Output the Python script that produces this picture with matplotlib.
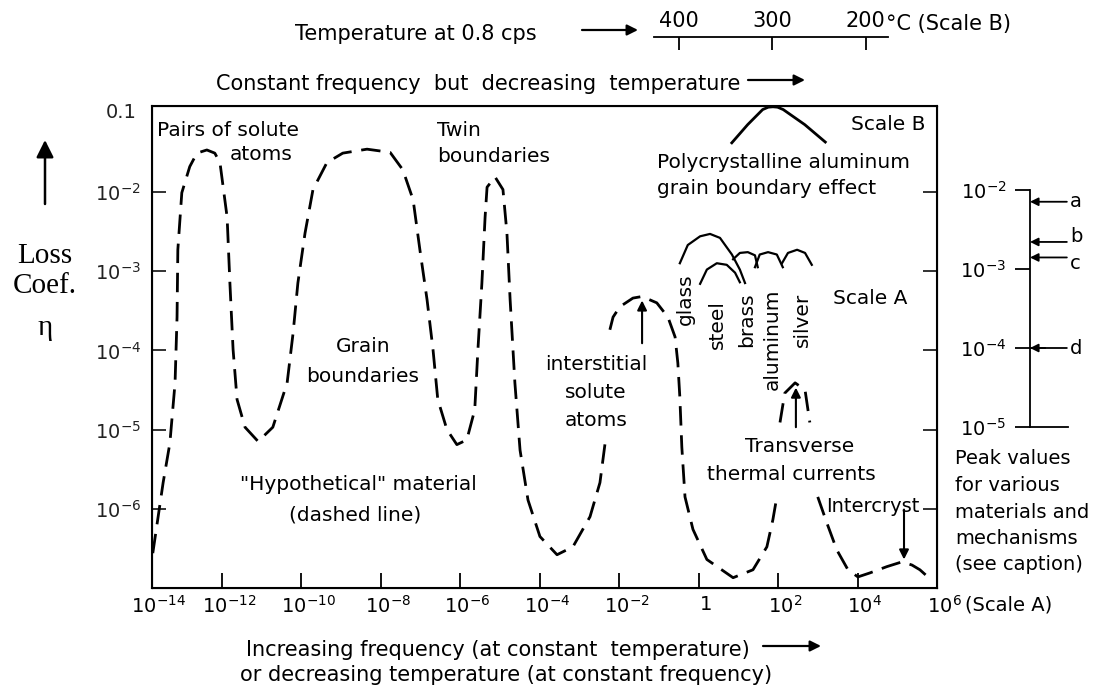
import numpy as np
import matplotlib
matplotlib.use('Agg')
import matplotlib.pyplot as plt
from matplotlib.transforms import ScaledTranslation

# "Hypothetical" material (dashed line), log10(frequency) vs log10(loss coefficient)
hyp_a_f = [-13.74, -13.48, -13.31, -13.18, -13.13, -13.11, -13.01, -12.81, -12.63, -12.38,
           -12.18, -12.05, -11.87, -11.80, -11.72, -11.62, -11.42, -11.09, -10.72, -10.36,
           -10.21, -10.09, -9.91, -9.71, -9.36, -8.96, -8.35, -7.77, -7.45, -7.19, -7.02,
           -6.84, -6.69, -6.57, -6.34, -6.09, -5.84, -5.64, -5.56, -5.46, -5.38, -5.33,
           -5.13, -4.93, -4.83, -4.75, -4.63, -4.50, -4.30, -4.00, -3.57, -3.17, -2.74,
           -2.49, -2.36]
hyp_a_eta = [-6.56, -5.67, -5.17, -4.41, -3.58, -2.73, -2.01, -1.68, -1.51, -1.47,
             -1.51, -1.63, -2.32, -3.15, -3.99, -4.62, -4.97, -5.15, -4.97, -4.41,
             -3.78, -3.15, -2.52, -1.97, -1.63, -1.51, -1.46, -1.50, -1.72, -2.10, -2.73,
             -3.36, -3.99, -4.62, -5.00, -5.19, -5.13, -4.75, -3.99, -3.15, -2.32, -1.94,
             -1.81, -1.97, -2.52, -3.36, -4.41, -5.26, -5.89, -6.35, -6.58, -6.48, -6.10,
             -5.67, -5.17]
hyp_b_f = [-2.24, -2.16, -1.99, -1.66, -1.43, -1.06, -0.78, -0.60, -0.53, -0.48, -0.43,
           -0.35, -0.15, 0.20, 0.86, 1.36, 1.71, 1.86, 1.96]
hyp_b_eta = [-3.74, -3.58, -3.45, -3.34, -3.32, -3.40, -3.58, -3.83, -4.16, -4.59, -5.22,
             -5.85, -6.26, -6.64, -6.87, -6.77, -6.48, -6.14, -5.85]
hyp_c_f = [2.04, 2.16, 2.42, 2.67, 2.79]
hyp_c_eta = [-4.91, -4.54, -4.41, -4.50, -4.91]
hyp_d_f = [2.99, 3.22, 3.47, 3.75, 4.00, 4.30, 4.73, 5.11, 5.36, 5.56, 5.76]
hyp_d_eta = [-5.85, -6.18, -6.52, -6.77, -6.86, -6.81, -6.73, -6.67, -6.71, -6.77, -6.86]

# solid peaks of real materials (scale A)
glass_f = [-0.48, -0.28, 0.03, 0.28, 0.53, 0.83, 1.03, 1.16]
glass_eta = [-2.90, -2.67, -2.56, -2.53, -2.58, -2.79, -2.98, -3.15]
steel_f = [0.03, 0.20, 0.45, 0.70, 0.91, 1.03]
steel_eta = [-3.16, -2.98, -2.90, -2.92, -3.02, -3.14]
brass_f = [0.86, 1.03, 1.23, 1.41, 1.48]
brass_eta = [-2.85, -2.77, -2.76, -2.80, -2.95]
alum_f = [1.41, 1.53, 1.74, 1.96, 2.11]
alum_eta = [-2.95, -2.79, -2.76, -2.79, -2.95]
silver_f = [2.09, 2.24, 2.47, 2.67, 2.84]
silver_eta = [-2.90, -2.77, -2.73, -2.77, -2.92]

# polycrystalline aluminum grain boundary peak (scale B, temperature in C)
poly_T = [343, 326, 310, 304, 299, 294, 288, 265, 243]
poly_eta = [-1.38, -1.15, -0.96, -0.93, -0.925, -0.93, -0.96, -1.15, -1.37]

# tick labels
x_exp = [-14, -12, -10, -8, -6, -4, -2, 0, 2, 4, 6]
y_exp = [-2, -3, -4, -5, -6]
scale_b_T = [400, 300, 200]

# right-hand scale: peak values
peak_labels = ['a', 'b', 'c', 'd']
peak_values = [7.1e-3, 2.2e-3, 1.4e-3, 1.0e-4]

W, H = 1094, 695
FS = 14.5

fig = plt.figure(figsize=(W / 100, H / 100), dpi=100)
ax = fig.add_axes([152 / W, 1 - 588 / H, 785 / W, 482 / H])
ax.set_xscale('log')
ax.set_yscale('log')
ax.set_xlim(10 ** -13.76, 10 ** 5.99)
ax.set_ylim(10 ** -7.0, 10 ** -0.915)
ax.minorticks_off()


def axp(px, py):
    # pixel of the picture -> axes fraction
    return (px - 152) / 785, (588 - py) / 482


dash = (0, (7, 3.5))
for f, e in [(hyp_a_f, hyp_a_eta), (hyp_b_f, hyp_b_eta),
             (hyp_c_f, hyp_c_eta), (hyp_d_f, hyp_d_eta)]:
    ax.plot(10.0 ** np.array(f), 10.0 ** np.array(e), color='k', lw=2.0, ls=dash,
            dash_capstyle='butt')

for f, e in [(glass_f, glass_eta), (steel_f, steel_eta), (brass_f, brass_eta),
             (alum_f, alum_eta), (silver_f, silver_eta)]:
    ax.plot(10.0 ** np.array(f), 10.0 ** np.array(e), color='k', lw=1.6)

# scale B curve on a hidden twin x-axis (temperature)
ax_t = ax.twiny()
ax_t.set_xlim(300 + (772 - 152) / 0.935, 300 - (937 - 772) / 0.935)
ax_t.plot(poly_T, 10.0 ** np.array(poly_eta), color='k', lw=2.0)
ax_t.set_xticks([])
ax_t.tick_params(top=False, labeltop=False)

# axes styling
for s in ax.spines.values():
    s.set_linewidth(1.5)
xt = [10 ** -13.76] + [10.0 ** k for k in x_exp[1:-1]] + [10 ** 5.99]
xl = []
for k in x_exp:
    xl.append('1' if k == 0 else '$10^{%d}$' % k)
ax.set_xticks(xt)
ax.set_xticklabels(xl)
ax.tick_params(axis='x', direction='in', length=11, width=1.3, pad=5, labelsize=14)
off = ScaledTranslation(5 / 72, 0, fig.dpi_scale_trans)
for lab in ax.get_xticklabels():
    lab.set_transform(lab.get_transform() + off)
ax.set_yticks([10.0 ** k for k in y_exp])
ax.set_yticklabels(['$10^{%d}$' % k for k in y_exp])
ax.tick_params(axis='y', direction='in', length=10, width=1.3, pad=8, labelsize=14,
               right=True, colors='#222222')
ax.text(-0.02, 0.1, '0.1', transform=ax.get_yaxis_transform(), ha='right',
        va='center', fontsize=14, color='#222222')
ax.text(1.036, -0.035, '(Scale A)', transform=ax.transAxes, ha='left', va='center',
        fontsize=14)

# labels inside the plot
def label(px, py, s, ha='left', size=FS):
    x, y = axp(px, py)
    ax.text(x, y, s, transform=ax.transAxes, ha=ha, va='center_baseline',
            fontsize=size)


label(157, 128, 'Pairs of solute')
label(230, 153, 'atoms')
label(437, 128, 'Twin')
label(437, 155, 'boundaries')
label(363, 345, 'Grain', ha='center')
label(363, 375, 'boundaries', ha='center')
label(596, 362, 'interstitial', ha='center')
label(596, 390, 'solute', ha='center')
label(596, 418, 'atoms', ha='center')
label(358, 483, '"Hypothetical" material', ha='center')
label(355, 513, '(dashed line)', ha='center')
label(800, 445, 'Transverse', ha='center')
label(791, 473, 'thermal currents', ha='center')
label(919, 505, 'Intercryst', ha='right', size=14)
label(925, 123, 'Scale B', ha='right')
label(657, 160, 'Polycrystalline aluminum')
label(657, 187, 'grain boundary effect')
label(833, 297, 'Scale A')

for px, py, s in [(685, 273, 'glass'), (717, 300, 'steel'), (747, 292, 'brass'),
                  (772, 288, 'aluminum'), (802, 293, 'silver')]:
    x, y = axp(px, py)
    ax.text(x, y, s, transform=ax.transAxes, rotation=90, ha='center', va='top',
            fontsize=FS)

arrow = dict(arrowstyle='-|>', color='k', lw=1.5, mutation_scale=14, shrinkA=0, shrinkB=0)
ax.annotate('', xy=(10 ** -1.43, 10 ** -3.37), xytext=(10 ** -1.43, 10 ** -3.91),
            arrowprops=arrow)
ax.annotate('', xy=(10 ** 2.44, 10 ** -4.47), xytext=(10 ** 2.44, 10 ** -4.97),
            arrowprops=arrow)
ax.annotate('', xy=(10 ** 5.16, 10 ** -6.64), xytext=(10 ** 5.16, 10 ** -6.01),
            arrowprops=arrow)

# scale B temperature ruler
axb = fig.add_axes([654 / W, 1 - 50 / H, 234 / W, 13 / H])
axb.set_xlim(300 + (772 - 654) / 0.935, 300 - (888 - 772) / 0.935)
axb.set_ylim(0, 1)
for s in ['left', 'right', 'bottom']:
    axb.spines[s].set_visible(False)
axb.spines['top'].set_linewidth(1.3)
axb.patch.set_visible(False)
axb.xaxis.tick_top()
axb.set_xticks(scale_b_T)
axb.set_xticklabels([str(t) for t in scale_b_T])
axb.tick_params(axis='x', direction='in', length=9.5, width=1.3, pad=4, labelsize=15)
axb.set_yticks([])
fig.text(886 / W, 1 - 22 / H, '°C (Scale B)', ha='left', va='center_baseline', fontsize=15)

# right-hand scale of peak values
axr = fig.add_axes([1030 / W, 1 - 427 / H, 38 / W, 237 / H])
axr.set_yscale('log')
axr.set_ylim(1e-5, 1e-2)
axr.set_xlim(0, 1)
axr.minorticks_off()
for s in ['top', 'right', 'bottom']:
    axr.spines[s].set_visible(False)
axr.spines['left'].set_linewidth(1.3)
axr.patch.set_visible(False)
axr.set_xticks([])
axr.set_yticks([1e-2, 1e-3, 1e-4, 1e-5])
axr.set_yticklabels(['$10^{-2}$', '$10^{-3}$', '$10^{-4}$', '$10^{-5}$'])
axr.tick_params(axis='y', direction='out', length=11, width=1.3, pad=6, labelsize=14)
axr.plot([0, 0.4], [1e-4, 1e-4], color='k', lw=1.3)
axr.plot([0, 1.0], [1e-5, 1e-5], color='k', lw=1.3, clip_on=False)
label_shift = {'a': 0, 'b': 4, 'c': -4, 'd': 0}
for lab, v in zip(peak_labels, peak_values):
    axr.annotate('', xy=(0, v), xytext=(0.97, v), annotation_clip=False,
                 arrowprops=dict(arrowstyle='-|>', color='k', lw=1.3,
                                 mutation_scale=12, shrinkA=0, shrinkB=0))
    axr.annotate(lab, xy=(1.06, v), xytext=(0, label_shift[lab]),
                 textcoords='offset points', ha='left', va='center', fontsize=14,
                 annotation_clip=False)

for i, s in enumerate(['Peak values', 'for various', 'materials and', 'mechanisms',
                       '(see caption)']):
    fig.text(955 / W, 1 - (457 + 26.5 * i) / H, s, ha='left', va='center_baseline',
             fontsize=14)

# descriptions above and below
fig.text(295 / W, 1 - 32 / H, 'Temperature at 0.8 cps', ha='left',
         va='center_baseline', fontsize=15)
fig.text(216 / W, 1 - 82 / H, 'Constant frequency  but  decreasing  temperature',
         ha='left', va='center_baseline', fontsize=15)
fig.text(246 / W, 1 - 648 / H, 'Increasing frequency (at constant  temperature)',
         ha='left', va='center_baseline', fontsize=15)
fig.text(240 / W, 1 - 673 / H, 'or decreasing temperature (at constant frequency)',
         ha='left', va='center_baseline', fontsize=15)

farrow = dict(arrowstyle='-|>', color='k', lw=1.6, mutation_scale=16, shrinkA=0, shrinkB=0)
for x0, x1, y in [(582, 638, 30), (748, 805, 80), (763, 821, 646)]:
    fig.add_artist(matplotlib.patches.FancyArrowPatch(
        (x0 / W, 1 - y / H), (x1 / W, 1 - y / H), transform=fig.transFigure, **farrow))

# vertical axis title
fig.add_artist(matplotlib.patches.FancyArrowPatch(
    (45 / W, 1 - 204 / H), (45 / W, 1 - 140 / H), transform=fig.transFigure,
    arrowstyle='-|>', color='k', lw=1.8, mutation_scale=26, shrinkA=0, shrinkB=0))
for y, s in [(253, 'Loss'), (283, 'Coef.'), (325, 'η')]:
    fig.text(45 / W, 1 - y / H, s, ha='center', va='center_baseline', fontsize=21,
             family='Liberation Serif')

fig.savefig('out.png', dpi=100)
